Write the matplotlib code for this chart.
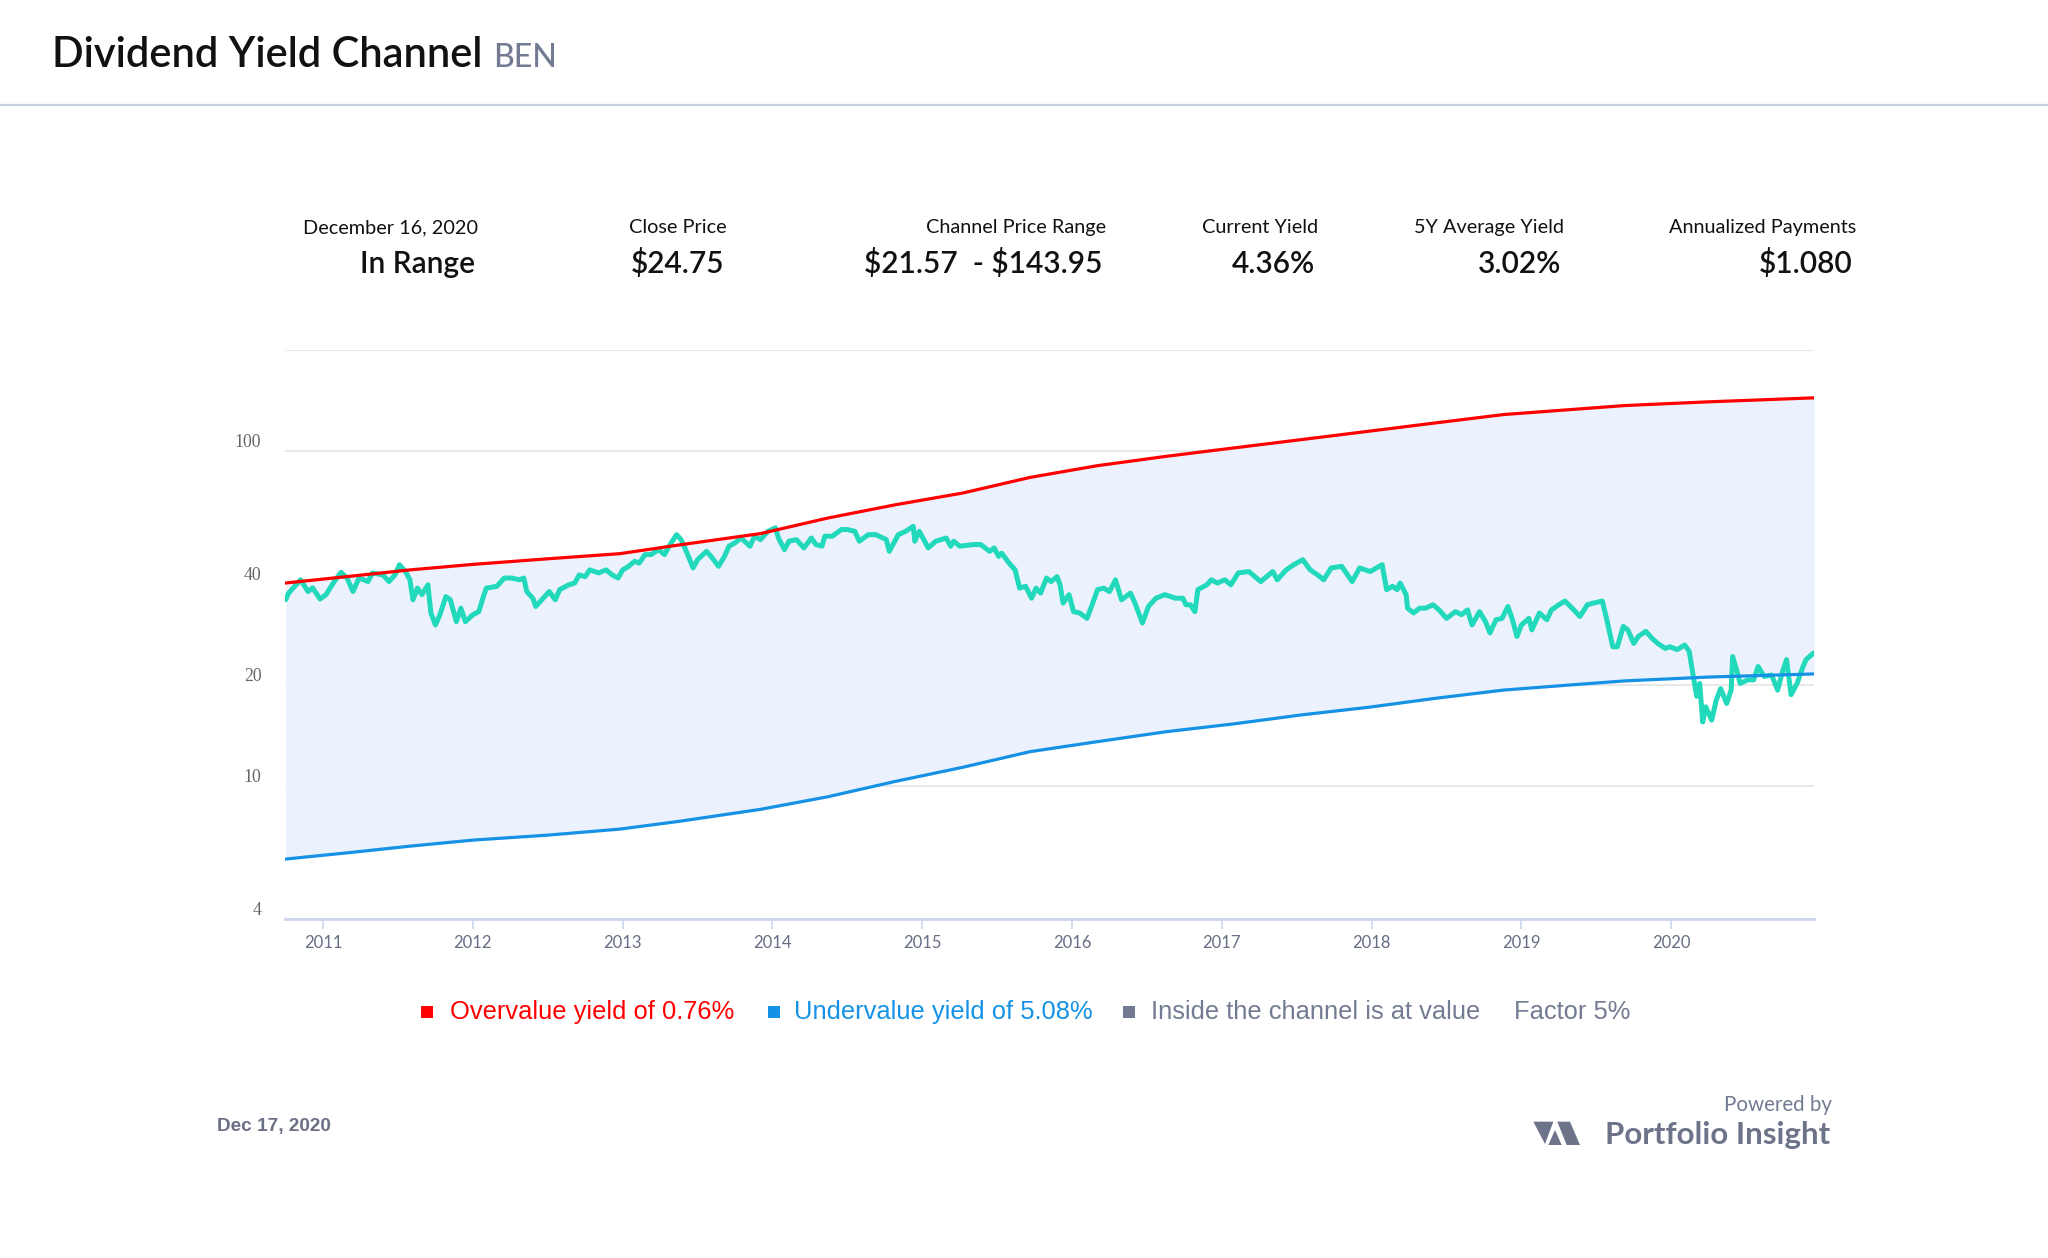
import matplotlib
matplotlib.use('Agg')
import matplotlib.pyplot as plt
from matplotlib.patches import Rectangle, Polygon
from matplotlib.lines import Line2D
from matplotlib.ticker import FixedLocator, NullLocator, FixedFormatter

# ---------------- data ----------------
ticker = "BEN"
title = "Dividend Yield Channel"

stat_labels = ["December 16, 2020", "Close Price", "Channel Price Range",
               "Current Yield", "5Y Average Yield", "Annualized Payments"]
stat_values = ["In Range", "$24.75", "$21.57  - $143.95", "4.36%", "3.02%", "$1.080"]

year_ticks = [2011, 2012, 2013, 2014, 2015, 2016, 2017, 2018, 2019, 2020]
year_labels = ["2011", "2012", "2013", "2014", "2015", "2016", "2017", "2018", "2019", "2020"]
y_ticks = [4, 10, 20, 40, 100, 200]
y_tick_labels = ["4", "10", "20", "40", "100", ""]

# channel lines (decimal year)
channel_years = [2010.75, 2011.2, 2011.58, 2012.0, 2012.5, 2012.98, 2013.37, 2013.92,
                 2014.37, 2014.82, 2015.27, 2015.72, 2016.17, 2016.63, 2017.08, 2017.53,
                 2017.98, 2018.43, 2018.88, 2019.33, 2019.69, 2020.24, 2020.955]
overvalue_price = [40.3, 42.3, 44.1, 45.8, 47.6, 49.3, 52.3, 56.6,
                   63.0, 69.0, 74.8, 83.3, 90.3, 96.3, 102.0, 108.0,
                   114.4, 121.2, 128.3, 132.8, 136.5, 140.0, 143.95]
undervalue_price = [6.04, 6.33, 6.6, 6.88, 7.12, 7.42, 7.82, 8.50,
                    9.27, 10.3, 11.35, 12.64, 13.54, 14.5, 15.3, 16.27,
                    17.15, 18.25, 19.3, 20.0, 20.56, 21.1, 21.57]

# close price (decimal year, USD)
price_years = [
    2010.75, 2010.77, 2010.85, 2010.90, 2010.93, 2010.98, 2011.02, 2011.07, 2011.12, 2011.16,
    2011.20, 2011.24, 2011.30, 2011.33, 2011.40, 2011.44, 2011.48, 2011.51, 2011.55, 2011.58,
    2011.60, 2011.63, 2011.66, 2011.70, 2011.72, 2011.75, 2011.78, 2011.82, 2011.85, 2011.89,
    2011.92, 2011.95, 2012.00, 2012.04, 2012.07, 2012.09, 2012.16, 2012.21, 2012.26, 2012.31,
    2012.34, 2012.36, 2012.40, 2012.42, 2012.46, 2012.51, 2012.55, 2012.58, 2012.64, 2012.68,
    2012.71, 2012.75, 2012.78, 2012.84, 2012.89, 2012.93, 2012.97, 2013.00, 2013.04, 2013.08,
    2013.11, 2013.15, 2013.19, 2013.24, 2013.28, 2013.31, 2013.36, 2013.39, 2013.43, 2013.47,
    2013.50, 2013.56, 2013.59, 2013.64, 2013.68, 2013.71, 2013.75, 2013.79, 2013.85, 2013.88,
    2013.92, 2013.97, 2014.02, 2014.04, 2014.08, 2014.11, 2014.16, 2014.18, 2014.21, 2014.26,
    2014.29, 2014.33, 2014.35, 2014.40, 2014.46, 2014.50, 2014.55, 2014.58, 2014.64, 2014.69,
    2014.76, 2014.78, 2014.84, 2014.89, 2014.94, 2014.95, 2014.98, 2015.04, 2015.09, 2015.16,
    2015.19, 2015.21, 2015.25, 2015.34, 2015.39, 2015.45, 2015.48, 2015.51, 2015.53, 2015.58,
    2015.62, 2015.65, 2015.69, 2015.73, 2015.76, 2015.79, 2015.83, 2015.86, 2015.90, 2015.92,
    2015.94, 2015.98, 2016.01, 2016.05, 2016.10, 2016.13, 2016.17, 2016.21, 2016.25, 2016.29,
    2016.33, 2016.39, 2016.42, 2016.47, 2016.51, 2016.56, 2016.62, 2016.69, 2016.74, 2016.76,
    2016.79, 2016.82, 2016.84, 2016.90, 2016.93, 2016.97, 2017.02, 2017.06, 2017.11, 2017.18,
    2017.26, 2017.34, 2017.37, 2017.43, 2017.48, 2017.54, 2017.59, 2017.64, 2017.68, 2017.73,
    2017.80, 2017.87, 2017.92, 2017.99, 2018.07, 2018.10, 2018.14, 2018.17, 2018.19, 2018.23,
    2018.24, 2018.28, 2018.32, 2018.36, 2018.41, 2018.45, 2018.50, 2018.56, 2018.60, 2018.64,
    2018.67, 2018.72, 2018.76, 2018.79, 2018.83, 2018.87, 2018.91, 2018.94, 2018.97, 2019.00,
    2019.05, 2019.07, 2019.12, 2019.17, 2019.20, 2019.25, 2019.29, 2019.35, 2019.39, 2019.44,
    2019.48, 2019.54, 2019.57, 2019.61, 2019.64, 2019.68, 2019.71, 2019.75, 2019.78, 2019.83,
    2019.87, 2019.91, 2019.96, 2019.99, 2020.04, 2020.09, 2020.12, 2020.14, 2020.17, 2020.19,
    2020.21, 2020.23, 2020.27, 2020.30, 2020.33, 2020.37, 2020.40, 2020.41, 2020.44, 2020.46,
    2020.51, 2020.55, 2020.58, 2020.62, 2020.67, 2020.71, 2020.74, 2020.77, 2020.80, 2020.84,
    2020.88, 2020.90, 2020.95]
close_price = [
    35.9, 37.6, 41.2, 38.0, 39.0, 36.1, 37.2, 40.4, 43.4, 41.7,
    38.0, 41.7, 40.7, 43.2, 42.6, 40.7, 42.6, 45.7, 43.6, 41.2,
    35.9, 38.9, 37.2, 39.8, 32.8, 30.2, 32.4, 36.7, 35.9, 30.9,
    33.9, 30.9, 32.4, 33.1, 36.7, 38.9, 39.4, 41.7, 41.7, 41.2,
    41.7, 38.0, 36.3, 34.3, 35.9, 38.0, 35.9, 38.5, 39.8, 40.3,
    42.6, 42.1, 44.1, 43.2, 44.1, 42.6, 41.7, 44.1, 45.2, 46.8,
    46.2, 49.0, 49.0, 50.7, 49.0, 51.9, 56.2, 54.3, 49.5, 44.7,
    47.3, 50.1, 48.4, 45.2, 48.4, 51.9, 53.1, 54.9, 51.9, 55.6,
    54.3, 57.5, 58.9, 54.9, 50.7, 53.7, 54.3, 53.1, 51.3, 54.9,
    52.5, 51.9, 55.6, 55.6, 58.2, 58.2, 57.5, 53.7, 56.2, 56.2,
    54.3, 50.1, 56.2, 57.5, 59.5, 53.7, 57.5, 51.3, 53.7, 54.9,
    51.9, 53.7, 51.9, 52.5, 52.5, 50.1, 51.3, 48.4, 49.5, 46.2,
    44.1, 38.9, 39.4, 36.3, 38.9, 37.6, 41.7, 40.7, 42.1, 39.8,
    35.1, 37.2, 33.1, 32.8, 31.6, 34.3, 38.5, 38.9, 38.0, 41.2,
    35.9, 37.6, 35.1, 30.6, 34.3, 36.3, 37.2, 36.3, 36.3, 34.7,
    34.7, 33.1, 38.5, 39.8, 41.2, 40.3, 41.2, 39.8, 43.2, 43.6,
    40.7, 43.6, 41.2, 44.1, 45.7, 47.3, 44.1, 42.6, 41.2, 44.7,
    45.2, 40.7, 44.7, 43.6, 45.7, 38.5, 39.4, 38.5, 40.3, 37.2,
    33.9, 32.8, 33.9, 33.9, 34.7, 33.5, 31.6, 33.1, 32.4, 33.5,
    30.2, 33.1, 30.9, 28.6, 31.3, 31.6, 34.3, 31.3, 27.9, 30.2,
    31.6, 29.2, 32.8, 31.3, 33.5, 34.7, 35.6, 33.5, 32.0, 34.7,
    35.1, 35.6, 31.3, 26.0, 26.0, 29.9, 29.2, 26.6, 27.9, 28.9,
    27.6, 26.6, 25.7, 26.0, 25.5, 26.3, 25.2, 22.2, 18.5, 20.2,
    15.5, 17.2, 15.7, 18.0, 19.5, 17.6, 19.3, 24.3, 21.9, 20.2,
    20.7, 20.7, 22.7, 21.2, 21.4, 19.3, 21.7, 23.8, 18.7, 20.2,
    22.7, 23.8, 24.9]

legend_labels = ["Overvalue yield of 0.76%", "Undervalue yield of 5.08%",
                 "Inside the channel is at value", "Factor 5%"]
footer_date = "Dec 17, 2020"

# ---------------- styling ----------------
W, H = 2048, 1258
SANS = ['Lato', 'DejaVu Sans']
ARIAL = ['Liberation Sans', 'DejaVu Sans']
SERIF = ['Liberation Serif', 'DejaVu Serif']
RED = '#ff0000'
BLUE = '#1592e6'
TEAL = '#22d9bb'
FILL = '#ecf2fd'
GREY = '#737b92'


def fx(px):
    return px / W


def fy(py):
    return 1 - py / H


fig = plt.figure(figsize=(W / 100, H / 100), dpi=100)
fig.patch.set_facecolor('white')

# header
t = fig.text(fx(52), fy(67), title, family=SANS, weight='semibold', size=30,
             color='#111111', va='baseline', ha='left')
fig.canvas.draw()
bb = t.get_window_extent()
fig.text((bb.x1 + 11) / W, fy(67), ticker, family=SANS, weight='medium', size=23,
         color=GREY, va='baseline', ha='left')
fig.add_artist(Line2D([0, 1], [fy(104.5), fy(104.5)], transform=fig.transFigure,
                      color='#c8d1dd', lw=1.6))

# statistics row
stat_right = [478, 727, 1106, 1318, 1564, 1856]
for xr, lab, val in zip(stat_right, stat_labels, stat_values):
    fig.text(fx(xr), fy(233), lab, family=SANS, size=14.3, color='#111111',
             ha='right', va='baseline', parse_math=False)
    fig.text(fx(xr - 3), fy(273), val, family=SANS, weight='semibold', size=21.5,
             color='#111111', ha='right', va='baseline', parse_math=False)

# chart
left, right, top, bottom = 285, 1814, 350, 919
ax = fig.add_axes([fx(left), fy(bottom), (right - left) / W, (bottom - top) / H])
ax.set_facecolor('white')
ax.fill_between(channel_years, undervalue_price, overvalue_price, color=FILL,
                lw=0, zorder=1)
ax.plot(price_years, close_price, color=TEAL, lw=3.6, solid_joinstyle='round',
        solid_capstyle='round', zorder=3)
ax.plot(channel_years, overvalue_price, color=RED, lw=2.3, zorder=4)
ax.plot(channel_years, undervalue_price, color=BLUE, lw=2.3, zorder=4)

ax.set_yscale('log')
ax.set_ylim(4, 200)
ax.set_xlim(2010.746, 2020.953)
ax.yaxis.set_major_locator(FixedLocator(y_ticks))
ax.yaxis.set_major_formatter(FixedFormatter(y_tick_labels))
ax.yaxis.set_minor_locator(NullLocator())
ax.xaxis.set_major_locator(FixedLocator(year_ticks))
ax.xaxis.set_major_formatter(FixedFormatter(year_labels))
ax.xaxis.set_minor_locator(NullLocator())

ax.grid(axis='y', color='#e6e6e6', lw=1.3, zorder=0)
ax.set_axisbelow(True)
for s in ['top', 'right', 'left']:
    ax.spines[s].set_visible(False)
ax.spines['bottom'].set_color('#ccd6eb')
ax.spines['bottom'].set_linewidth(2)

ax.tick_params(axis='y', length=0, pad=17, labelsize=12.8, labelcolor='#666666')
for lab in ax.get_yticklabels():
    lab.set_family(SERIF)
    lab.set_va('bottom')
ax.tick_params(axis='x', direction='out', length=7.5, width=1.2, color='#ccd6eb',
               pad=4, labelsize=12, labelcolor='#666e85')
for lab in ax.get_xticklabels():
    lab.set_family(SANS)

# legend
leg_y = 1012
legend_items = [(427, 450, RED), (774, 794, BLUE), (1129, 1151, GREY), (None, 1514, GREY)]
for (sq, tx, col), lab in zip(legend_items, legend_labels):
    if sq is not None:
        fig.add_artist(Rectangle((fx(sq - 6), fy(leg_y + 6)), 12 / W, 12 / H,
                                 transform=fig.transFigure, color=col, lw=0))
    fig.text(fx(tx), fy(leg_y), lab, family=ARIAL, size=18.4, color=col,
             ha='left', va='center')

# footer
fig.text(fx(217), fy(1126), footer_date, family=ARIAL, weight='bold', size=13.7,
         color='#6b7085', ha='left', va='center')
fig.text(fx(1832), fy(1105), "Powered by", family=SANS, size=14.8, color=GREY,
         ha='right', va='center')
fig.text(fx(1830), fy(1135), "Portfolio Insight", family=SANS, weight='bold',
         size=22.5, color='#6d7489', ha='right', va='center')


def logo_pt(px, py):
    return (fx(1520 + px / 3), fy(1080 + py / 3))


for poly in ([(40, 125), (100, 125), (75, 192)],
             [(85, 195), (105, 150), (125, 195)],
             [(112, 125), (150, 125), (180, 195), (140, 195)]):
    fig.add_artist(Polygon([logo_pt(*p) for p in poly], closed=True,
                           transform=fig.transFigure, color='#6d7489', lw=0))

fig.savefig('out.png', dpi=100, facecolor='white')
